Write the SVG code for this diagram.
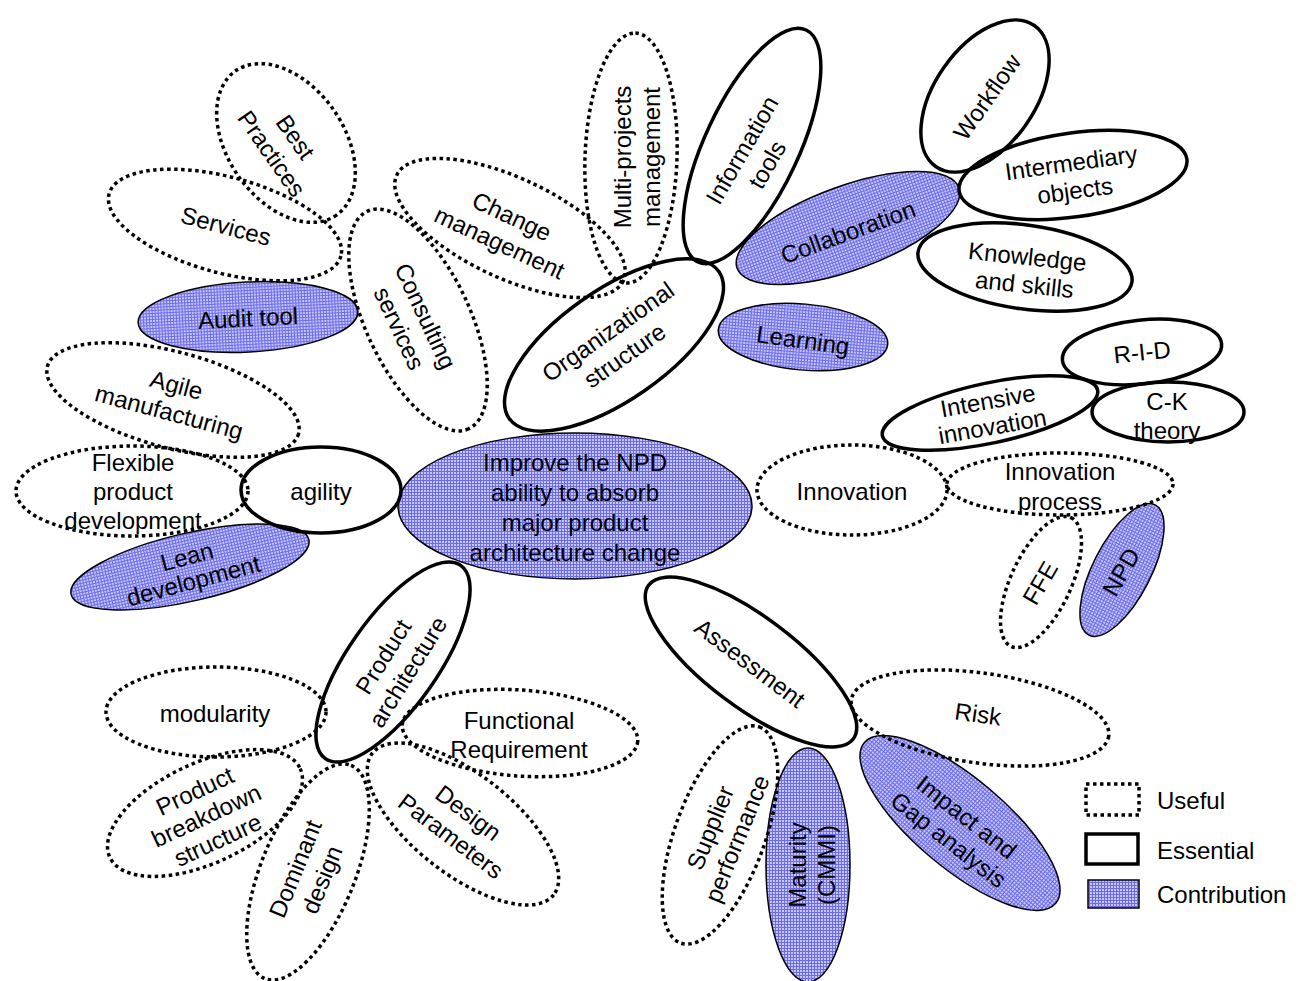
<svg xmlns="http://www.w3.org/2000/svg" width="1298" height="981" viewBox="0 0 1298 981">
<defs>
<pattern id="grid" width="3" height="3" patternUnits="userSpaceOnUse"><rect width="3" height="3" fill="#c6c6fb"/><path d="M0 0.5H3M0.5 0V3" stroke="#6c6cea" stroke-width="1"/></pattern>
<style>
.u{fill:none;stroke:#000;stroke-width:3.5;stroke-dasharray:3.5 3.5}
.e{fill:none;stroke:#000;stroke-width:3.5}
.c{fill:url(#grid);stroke:#000;stroke-width:1.5}
text{font-family:"Liberation Sans",Arial,sans-serif;font-size:24px;text-anchor:middle;dominant-baseline:central;fill:#000}
.lg{text-anchor:start}
</style>
</defs>
<rect width="1298" height="981" fill="#fff"/>
<g id="connectors"></g>
<!-- contributions -->
<g id="center"><ellipse class="c" cx="575" cy="506" rx="177" ry="73"/><text transform="translate(575,507)"><tspan x="0" y="-45">Improve the NPD</tspan><tspan x="0" y="-15">ability to absorb</tspan><tspan x="0" y="15">major product</tspan><tspan x="0" y="45">architecture change</tspan></text></g>
<g id="collaboration"><ellipse class="c" transform="translate(848,228) rotate(-20)" rx="118" ry="42"/><text transform="translate(848,232) rotate(-20)">Collaboration</text></g>
<g id="learning"><ellipse class="c" transform="translate(803,337) rotate(5)" rx="85" ry="33"/><text transform="translate(803,340) rotate(8)">Learning</text></g>
<g id="npd"><ellipse class="c" transform="translate(1122,570) rotate(-63)" rx="73" ry="29"/><text transform="translate(1121,572) rotate(-60)">NPD</text></g>
<g id="impact"><ellipse class="c" transform="translate(960,823) rotate(40)" rx="125" ry="45"/><text transform="translate(958,828) rotate(38)"><tspan x="0" y="-14.5">Impact and</tspan><tspan x="0" y="14.5">Gap analysis</tspan></text></g>
<g id="maturity"><ellipse class="c" transform="translate(808,865) rotate(-90)" rx="117" ry="42"/><text transform="translate(811,865) rotate(-90)"><tspan x="0" y="-14.5">Maturity</tspan><tspan x="0" y="14.5">(CMMI)</tspan></text></g>
<g id="audit"><ellipse class="c" transform="translate(248,317) rotate(-3)" rx="110" ry="35"/><text transform="translate(248,318) rotate(-3)">Audit tool</text></g>
<g id="lean"><ellipse class="c" transform="translate(190,567) rotate(-13)" rx="122" ry="34"/><text transform="translate(190,568) rotate(-15)"><tspan x="0" y="-12.5">Lean</tspan><tspan x="0" y="12.5">development</tspan></text></g>
<!-- useful -->
<g id="bestpractices"><ellipse class="u" transform="translate(286,143) rotate(55)" rx="88" ry="58"/><text transform="translate(284,145) rotate(55)"><tspan x="0" y="-14.5">Best</tspan><tspan x="0" y="14.5">Practices</tspan></text></g>
<g id="services"><ellipse class="u" transform="translate(225,225) rotate(15)" rx="120" ry="48"/><text transform="translate(226,226) rotate(15)">Services</text></g>
<g id="consulting"><ellipse class="u" transform="translate(418,320) rotate(65)" rx="120" ry="52"/><text transform="translate(413,322) rotate(65)"><tspan x="0" y="-14.5">Consulting</tspan><tspan x="0" y="14.5">services</tspan></text></g>
<g id="change"><ellipse class="u" transform="translate(510,228) rotate(25)" rx="125" ry="50"/><text transform="translate(506,229) rotate(25)"><tspan x="0" y="-14.5">Change</tspan><tspan x="0" y="14.5">management</tspan></text></g>
<g id="multiprojects"><ellipse class="u" transform="translate(631,158) rotate(-88)" rx="125" ry="46"/><text transform="translate(636,157) rotate(-90)"><tspan x="0" y="-14.5">Multi-projects</tspan><tspan x="0" y="14.5">management</tspan></text></g>
<g id="agile"><ellipse class="u" transform="translate(173,400) rotate(15)" rx="130" ry="48"/><text transform="translate(173,398) rotate(15)"><tspan x="0" y="-14">Agile</tspan><tspan x="0" y="14">manufacturing</tspan></text></g>
<g id="flexible"><ellipse class="u" cx="132" cy="491" rx="116" ry="45"/><text transform="translate(133,491)"><tspan x="0" y="-29">Flexible</tspan><tspan x="0" y="0">product</tspan><tspan x="0" y="29">development</tspan></text></g>
<g id="innovation"><ellipse class="u" cx="852" cy="490" rx="95" ry="45"/><text x="852" y="491">Innovation</text></g>
<g id="innovationprocess"><ellipse class="u" cx="1060" cy="484" rx="113" ry="31"/><text transform="translate(1060,486)"><tspan x="0" y="-15">Innovation</tspan><tspan x="0" y="15">process</tspan></text></g>
<g id="ffe"><ellipse class="u" transform="translate(1041,582) rotate(-65)" rx="71" ry="30"/><text transform="translate(1040,583) rotate(-60)">FFE</text></g>
<g id="risk"><ellipse class="u" transform="translate(980,718) rotate(8)" rx="130" ry="45"/><text transform="translate(978,714) rotate(8)">Risk</text></g>
<g id="supplier"><ellipse class="u" transform="translate(720,835) rotate(-70)" rx="115" ry="45"/><text transform="translate(723,833) rotate(-68)"><tspan x="0" y="-14.5">Supplier</tspan><tspan x="0" y="14.5">performance</tspan></text></g>
<g id="modularity"><ellipse class="u" cx="216" cy="712" rx="110" ry="45"/><text x="215" y="713">modularity</text></g>
<g id="functional"><ellipse class="u" transform="translate(520,733) rotate(4)" rx="118" ry="43"/><text transform="translate(519,734)"><tspan x="0" y="-14.5">Functional</tspan><tspan x="0" y="14.5">Requirement</tspan></text></g>
<g id="breakdown"><ellipse class="u" transform="translate(205,813) rotate(-25)" rx="105" ry="50"/><text transform="translate(206,815) rotate(-25)"><tspan x="0" y="-27">Product</tspan><tspan x="0" y="0">breakdown</tspan><tspan x="0" y="27">structure</tspan></text></g>
<g id="dominant"><ellipse class="u" transform="translate(308,872) rotate(-68)" rx="115" ry="47"/><text transform="translate(308,874) rotate(-68)"><tspan x="0" y="-14.5">Dominant</tspan><tspan x="0" y="14.5">design</tspan></text></g>
<g id="designparams"><ellipse class="u" transform="translate(463,824) rotate(38)" rx="115" ry="50"/><text transform="translate(460,824) rotate(37)"><tspan x="0" y="-14.5">Design</tspan><tspan x="0" y="14.5">Parameters</tspan></text></g>
<!-- essential -->
<g id="agility"><ellipse class="e" cx="321" cy="490" rx="80" ry="43"/><text x="321" y="491">agility</text></g>
<g id="organizational"><ellipse class="e" transform="translate(614,345) rotate(-35)" rx="128" ry="55"/><text transform="translate(616,343) rotate(-35)"><tspan x="0" y="-14.5">Organizational</tspan><tspan x="0" y="14.5">structure</tspan></text></g>
<g id="information"><ellipse class="e" transform="translate(752,146) rotate(-65)" rx="128" ry="47"/><text transform="translate(754,157) rotate(-60)"><tspan x="0" y="-14.5">Information</tspan><tspan x="0" y="14.5">tools</tspan></text></g>
<g id="workflow"><ellipse class="e" transform="translate(985,96) rotate(-55)" rx="86" ry="50"/><text transform="translate(987,97) rotate(-55)">Workflow</text></g>
<g id="intermediary"><ellipse class="e" transform="translate(1073,175) rotate(-8)" rx="115" ry="42"/><text transform="translate(1073,176) rotate(-8)"><tspan x="0" y="-14">Intermediary</tspan><tspan x="0" y="14">objects</tspan></text></g>
<g id="knowledge"><ellipse class="e" transform="translate(1025,267) rotate(8)" rx="108" ry="42"/><text transform="translate(1026,270) rotate(6)"><tspan x="0" y="-14">Knowledge</tspan><tspan x="0" y="14">and skills</tspan></text></g>
<g id="rid"><ellipse class="e" transform="translate(1142,352) rotate(-6)" rx="80" ry="32"/><text transform="translate(1142,352) rotate(-6)">R-I-D</text></g>
<g id="ck"><ellipse class="e" cx="1168" cy="412" rx="76" ry="30"/><text transform="translate(1167,415)"><tspan x="0" y="-14.5">C-K</tspan><tspan x="0" y="14.5">theory</tspan></text></g>
<g id="intensive"><ellipse class="e" transform="translate(990,413) rotate(-12)" rx="110" ry="30"/><text transform="translate(990,413) rotate(-10)"><tspan x="0" y="-13">Intensive</tspan><tspan x="0" y="13">innovation</tspan></text></g>
<g id="assessment"><ellipse class="e" transform="translate(751,662) rotate(37)" rx="128" ry="45"/><text transform="translate(750,663) rotate(37)">Assessment</text></g>
<g id="productarch"><ellipse class="e" transform="translate(393,662) rotate(-55)" rx="118" ry="45"/><text transform="translate(395,664) rotate(-58)"><tspan x="0" y="-14.5">Product</tspan><tspan x="0" y="14.5">architecture</tspan></text></g>
<!-- legend -->
<g id="legend">
<rect class="u" x="1086" y="784" width="53" height="31"/>
<rect class="e" x="1086" y="834" width="52" height="30"/>
<rect class="c" x="1088" y="880" width="51" height="28"/>
<text class="lg" x="1157" y="800">Useful</text>
<text class="lg" x="1157" y="850">Essential</text>
<text class="lg" x="1157" y="894">Contribution</text>
</g>
</svg>
